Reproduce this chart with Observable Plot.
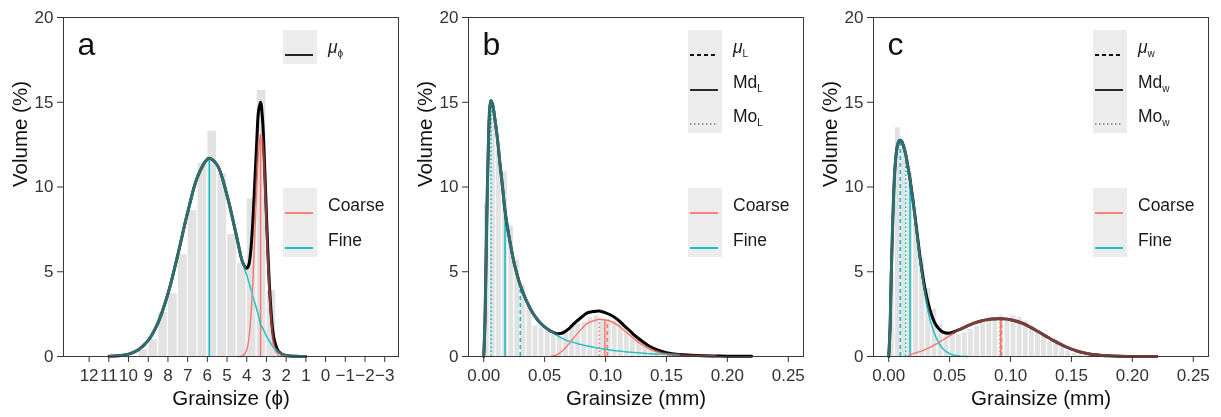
<!DOCTYPE html>
<html><head><meta charset="utf-8">
<script src="https://cdn.jsdelivr.net/npm/d3@7"></script>
<script src="https://cdn.jsdelivr.net/npm/@observablehq/plot@0.6"></script>
<style>
html,body{margin:0;padding:0;background:#fff;}
#row{display:flex;width:1221px;height:417px;font-family:"Liberation Sans",Arial,Helvetica,sans-serif;}
.panel{position:relative;height:417px;}
.key{position:absolute;left:283px;width:34px;background:#ececec;}
.ksw{position:absolute;left:285px;width:28px;height:6px;overflow:visible;}
.lab{position:absolute;left:328px;font-size:17.5px;color:#1a1a1a;line-height:20px;height:20px;white-space:nowrap;}
.lab sub{font-size:10px;vertical-align:-4px;}
</style></head><body><div id="row"></div>
<script>
// ================= Panel a : grain size in phi =================
const phiTicks = [12,11,10,9,8,7,6,5,4,3,2,1,0,-1,-2,-3];
const phiTickLabels = ["12","11","10","9","8","7","6","5","4","3","2","1","0","−1","−2","−3"];
const histA_binStart = [9.5,9.0,8.5,8.0,7.5,7.0,6.5,6.0,5.5,5.0,4.5,4.0,3.5,3.0];
const histA_volume   = [0.4,1.0,2.6,3.7,6.0,8.6,11.4,13.3,10.8,7.2,5.5,9.3,15.7,3.9];
const curveA_x      = [11,10.5,10,9.5,9,8.5,8,7.5,7,6.5,6,5.9,5.5,5,4.5,4.2,4.0,3.9,3.8,3.7,3.6,3.5,3.4,3.3,3.2,3.1,3.0,2.9,2.8,2.7,2.6,2.4,2.2,2.0,1.5,1.0];
const curveA_fine   = [0.01,0.04,0.14,0.4,0.95,2.0,3.7,6.0,8.5,10.6,11.65,11.7,11.3,9.5,7.0,5.5,4.8,4.4,4.0,3.6,3.2,2.8,2.4,1.9,1.7,1.45,1.2,1.0,0.8,0.62,0.47,0.25,0.12,0.06,0.01,0];
const curveA_coarse = [null,null,null,null,null,null,null,null,null,null,null,null,null,null,0,0.04,0.4,1.0,2.2,4.2,6.9,9.7,12.1,13.1,12.3,10.0,7.1,4.4,2.4,1.1,0.5,0.06,0.01,0,null,null];
const curveA_total  = [0.01,0.04,0.14,0.4,0.95,2.0,3.7,6.0,8.5,10.6,11.65,11.7,11.3,9.5,7.0,5.54,5.2,5.4,6.2,7.8,10.1,12.5,14.5,15.0,14.0,11.45,8.3,5.4,3.2,1.72,0.97,0.31,0.13,0.06,0.01,0];
const statA_x    = [5.9, 3.3];
const statA_v    = [11.7, 13.1];
const statA_comp = ["Fine","Coarse"];
const statA_kind = ["mean","mean"];

// ================= Panel b : grain size in mm (L) =================
const mmTicks = [0,0.05,0.10,0.15,0.20,0.25];
const mmTickLabels = ["0.00","0.05","0.10","0.15","0.20","0.25"];
const histB_binStart = [0,0.005,0.010,0.015,0.020,0.025,0.030,0.035,0.040,0.045,0.050,0.055,0.060,0.065,0.070,0.075,0.080,0.085,0.090,0.095,0.100,0.105,0.110,0.115,0.120,0.125,0.130,0.135,0.140,0.145,0.150];
const histB_volume   = [9.0,15.0,12.2,10.9,7.7,5.7,4.2,3.0,1.8,1.7,1.6,1.3,1.2,1.5,1.9,1.9,2.0,2.3,2.4,2.2,2.2,2.1,2.1,1.7,1.3,1.1,0.8,0.5,0.3,0.15,0.1];
const curveB_x      = [0,0.001,0.002,0.003,0.004,0.005,0.006,0.0075,0.009,0.011,0.013,0.015,0.0175,0.02,0.0225,0.025,0.0275,0.03,0.035,0.04,0.045,0.05,0.055,0.06,0.065,0.07,0.075,0.08,0.085,0.09,0.095,0.10,0.105,0.11,0.115,0.12,0.125,0.13,0.135,0.14,0.145,0.15,0.16,0.17,0.18,0.19,0.20,0.22,0.25];
const curveB_fine   = [0,2.0,6.0,10.0,13.0,14.7,15.1,14.8,14.1,13.0,11.6,10.3,8.6,7.4,6.4,5.5,4.8,4.2,3.3,2.6,2.1,1.75,1.5,1.25,1.05,0.9,0.8,0.7,0.62,0.55,0.48,0.42,0.37,0.33,0.29,0.26,0.23,0.2,0.17,0.15,0.13,0.11,0.08,null,null,null,null,null,null];
const curveB_coarse = [null,null,null,null,null,null,null,null,null,null,null,null,null,null,null,null,null,null,null,null,null,null,0,0.1,0.35,0.75,1.2,1.6,1.95,2.1,2.2,2.15,2.05,1.85,1.55,1.25,0.95,0.7,0.48,0.32,0.2,0.12,0.04,0.015,0.005,0,null,null,null];
const curveB_total  = [0,2.0,6.0,10.0,13.0,14.7,15.1,14.8,14.1,13.0,11.6,10.3,8.6,7.4,6.4,5.5,4.8,4.2,3.3,2.6,2.1,1.75,1.5,1.35,1.4,1.65,2.0,2.3,2.57,2.65,2.68,2.57,2.42,2.18,1.84,1.51,1.18,0.9,0.65,0.47,0.33,0.23,0.12,0.075,0.045,0.03,0.02,0.01,null];
const statB_x    = [0.006,0.0175,0.030,0.095,0.0995,0.1015];
const statB_v    = [15.1,8.6,4.2,2.2,2.15,2.1];
const statB_comp = ["Fine","Fine","Fine","Coarse","Coarse","Coarse"];
const statB_kind = ["mode","median","mean","mode","median","mean"];

// ================= Panel c : grain size in mm (W) =================
const histC_binStart = [0,0.005,0.010,0.015,0.020,0.025,0.030,0.035,0.040,0.045,0.050,0.055,0.060,0.065,0.070,0.075,0.080,0.085,0.090,0.095,0.100,0.105,0.110,0.115,0.120,0.125,0.130,0.135,0.140,0.145,0.150,0.155];
const histC_volume   = [5.0,13.5,12.5,10.8,7.8,5.8,4.0,2.8,1.9,1.5,1.4,1.3,1.4,1.6,1.8,2.0,2.1,2.3,2.4,2.2,2.4,2.3,2.1,1.8,1.5,1.2,0.9,0.7,0.5,0.3,0.2,0.1];
const curveC_x      = [0,0.001,0.002,0.003,0.004,0.005,0.006,0.007,0.008,0.009,0.010,0.011,0.012,0.014,0.016,0.0175,0.020,0.022,0.024,0.026,0.028,0.030,0.0325,0.035,0.0375,0.04,0.0425,0.045,0.0475,0.05,0.0525,0.055,0.0575,0.06,0.065,0.07,0.075,0.08,0.085,0.09,0.095,0.10,0.105,0.11,0.115,0.12,0.125,0.13,0.135,0.14,0.145,0.15,0.155,0.16,0.165,0.17,0.175,0.18,0.19,0.20,0.22,0.25];
const curveC_fine   = [0,1.5,4.5,7.3,9.5,11.0,11.9,12.4,12.65,12.75,12.75,12.65,12.45,11.9,11.1,10.35,9.0,7.8,6.6,5.4,4.4,3.5,2.6,1.9,1.35,0.95,0.65,0.42,0.27,0.17,0.1,0.06,0.03,0.01,0,null,null,null,null,null,null,null,null,null,null,null,null,null,null,null,null,null,null,null,null,null,null,null,null,null,null,null];
const curveC_coarse = [null,null,null,null,null,null,null,null,null,null,null,null,null,null,0,0.1,0.17,0.21,0.25,0.3,0.35,0.42,0.5,0.58,0.68,0.78,0.89,1.0,1.11,1.22,1.33,1.44,1.54,1.64,1.82,1.97,2.08,2.16,2.21,2.23,2.22,2.17,2.08,1.95,1.78,1.58,1.37,1.16,0.95,0.76,0.58,0.43,0.31,0.22,0.15,0.1,0.065,0.04,0.015,0.005,0,null];
const curveC_total  = [0,1.5,4.5,7.3,9.5,11.0,11.9,12.4,12.65,12.75,12.75,12.65,12.45,11.9,11.1,10.45,9.17,8.01,6.85,5.7,4.75,3.92,3.1,2.48,2.03,1.73,1.54,1.42,1.38,1.39,1.43,1.5,1.57,1.65,1.82,1.97,2.08,2.16,2.21,2.23,2.22,2.17,2.08,1.95,1.78,1.58,1.37,1.16,0.95,0.76,0.58,0.43,0.31,0.22,0.15,0.1,0.065,0.04,0.015,0.005,0,null];
const statC_x    = [0.0095,0.014,0.0175,0.0915,0.092,0.0925];
const statC_v    = [12.75,11.9,10.35,2.23,2.23,2.23];
const statC_comp = ["Fine","Fine","Fine","Coarse","Coarse","Coarse"];
const statC_kind = ["mean","mode","median","mode","median","mean"];

const yTicks = [0,5,10,15,20];

// ================= drawing =================
const FONT = '"Liberation Sans", Arial, Helvetica, sans-serif';
const col  = {Coarse: "#F8766D", Fine: "#00BFC4"};
const dark = {Coarse: "#7d3c39", Fine: "#2b6f70"};

function buildPanel(cfg) {
  const div = document.createElement("div");
  div.className = "panel";
  div.style.width = cfg.width + "px";
  const hist = cfg.histStart.map((s, i) => ({x1: s, x2: s + cfg.binWidth, v: cfg.histVol[i]}));
  const tab = ys => cfg.cx.map((x, i) => ({x, y: ys[i]})).filter(d => d.y != null);
  const fine = tab(cfg.fine), coarse = tab(cfg.coarse), total = tab(cfg.total);
  const stats = cfg.statX.map((x, i) => ({x, v: cfg.statV[i], comp: cfg.statComp[i], kind: cfg.statKind[i]}));
  const tickLab = new Map(cfg.xTicks.map((t, i) => [t, cfg.xTickLabels[i]]));
  const marks = [
    Plot.frame({fill: "white", stroke: null}),
    Plot.rect(hist, {x1: "x1", x2: "x2", y1: () => 0, y2: "v", fill: "#e2e2e2", insetLeft: 0.6, insetRight: 0.6})
  ];
  for (const comp of ["Fine", "Coarse"]) for (const kind of ["mode", "median", "mean"]) {
    const sub = stats.filter(d => d.comp === comp && d.kind === kind);
    if (sub.length) marks.push(Plot.ruleX(sub, {x: "x", y1: () => 0, y2: "v", stroke: col[comp], strokeWidth: 1.5, strokeDasharray: cfg.dash[kind]}));
  }
  const L = (data, o) => Plot.line(data, {x: "x", y: "y", curve: "catmull-rom", ...o});
  marks.push(
    L(coarse, {stroke: col.Coarse, strokeWidth: 1.4}),
    L(fine, {stroke: col.Fine, strokeWidth: 1.4}),
    L(total, {stroke: "black", strokeWidth: 3}),
    L(fine, {stroke: dark.Fine, strokeWidth: 3.4, mixBlendMode: "lighten"}),
    L(coarse, {stroke: dark.Coarse, strokeWidth: 3.4, mixBlendMode: "lighten"}),
    Plot.axisX(cfg.xTicks, {tickFormat: d => tickLab.get(d), tickSize: 6, tickPadding: 6, fontSize: 17, label: null}),
    Plot.axisY(yTicks, {tickSize: 6, tickPadding: 4, fontSize: 17, label: null}),
    Plot.frame({stroke: "#3a3a3a"}),
    Plot.text([cfg.letter], {text: d => d, frameAnchor: "top-left", dx: 14, dy: 37, lineAnchor: "bottom", textAnchor: "start", fontSize: 32, fill: "#111"}),
    Plot.text(["Volume (%)"], {text: d => d, frameAnchor: "left", dx: -43, rotate: -90, lineAnchor: "middle", fontSize: 20.5, fill: "#111"}),
    Plot.text([cfg.xTitle], {text: d => d, frameAnchor: "bottom", dy: 42, lineAnchor: "middle", fontSize: 20.5, fill: "#111"})
  );
  const svg = Plot.plot({
    width: cfg.width, height: 417,
    marginTop: 17, marginBottom: 61, marginLeft: 63, marginRight: cfg.width - 398,
    x: {domain: cfg.xDomain}, y: {domain: [0, 20]},
    style: {fontFamily: FONT, color: "#333", background: "white", overflow: "visible"},
    marks
  });
  div.appendChild(svg);
  addLegend(div, 30, cfg.legendTop);
  addLegend(div, 188, [
    {stroke: col.Coarse, html: "Coarse"},
    {stroke: col.Fine, html: "Fine"}
  ]);
  return div;
}

function addLegend(div, top, entries) {
  const h = 34.4;
  const key = document.createElement("div");
  key.className = "key";
  key.style.top = top + "px";
  key.style.height = (entries.length * h) + "px";
  div.appendChild(key);
  entries.forEach((e, i) => {
    const cy = top + h * (i + 0.5);
    const sw = document.createElement("div");
    sw.className = "ksw";
    sw.style.top = (cy - 3) + "px";
    sw.innerHTML = `<svg width="28" height="6"><line x1="0" x2="28" y1="3" y2="3" stroke="${e.stroke || "#111"}" stroke-width="${e.width || 1.8}" ${e.dash ? `stroke-dasharray="${e.dash}"` : ""}/></svg>`;
    div.appendChild(sw);
    const lab = document.createElement("div");
    lab.className = "lab";
    lab.style.top = (cy - 10) + "px";
    lab.innerHTML = e.html;
    div.appendChild(lab);
  });
}

const row = document.getElementById("row");
row.appendChild(buildPanel({
  width: 405, letter: "a", xTitle: "Grainsize (ϕ)", xDomain: [13.3, -3.7],
  xTicks: phiTicks, xTickLabels: phiTickLabels,
  histStart: histA_binStart, histVol: histA_volume, binWidth: -0.5,
  cx: curveA_x, fine: curveA_fine, coarse: curveA_coarse, total: curveA_total,
  statX: statA_x, statV: statA_v, statComp: statA_comp, statKind: statA_kind,
  dash: {mean: null},
  legendTop: [{stroke: "#111", html: "<i>μ</i><sub>ϕ</sub>"}]
}));
row.appendChild(buildPanel({
  width: 405, letter: "b", xTitle: "Grainsize (mm)", xDomain: [-0.0125, 0.2625],
  xTicks: mmTicks, xTickLabels: mmTickLabels,
  histStart: histB_binStart, histVol: histB_volume, binWidth: 0.005,
  cx: curveB_x, fine: curveB_fine, coarse: curveB_coarse, total: curveB_total,
  statX: statB_x, statV: statB_v, statComp: statB_comp, statKind: statB_kind,
  dash: {mean: "4,3", median: null, mode: "1.5,2.5"},
  legendTop: [
    {stroke: "#111", dash: "4,3", html: "<i>μ</i><sub>L</sub>"},
    {stroke: "#111", html: "Md<sub>L</sub>"},
    {stroke: "#999", dash: "1.5,2.5", html: "Mo<sub>L</sub>"}
  ]
}));
row.appendChild(buildPanel({
  width: 411, letter: "c", xTitle: "Grainsize (mm)", xDomain: [-0.0125, 0.2625],
  xTicks: mmTicks, xTickLabels: mmTickLabels,
  histStart: histC_binStart, histVol: histC_volume, binWidth: 0.005,
  cx: curveC_x, fine: curveC_fine, coarse: curveC_coarse, total: curveC_total,
  statX: statC_x, statV: statC_v, statComp: statC_comp, statKind: statC_kind,
  dash: {mean: "4,3", median: null, mode: "1.5,2.5"},
  legendTop: [
    {stroke: "#111", dash: "4,3", html: "<i>μ</i><sub>w</sub>"},
    {stroke: "#111", html: "Md<sub>w</sub>"},
    {stroke: "#999", dash: "1.5,2.5", html: "Mo<sub>w</sub>"}
  ]
}));
</script></body></html>
